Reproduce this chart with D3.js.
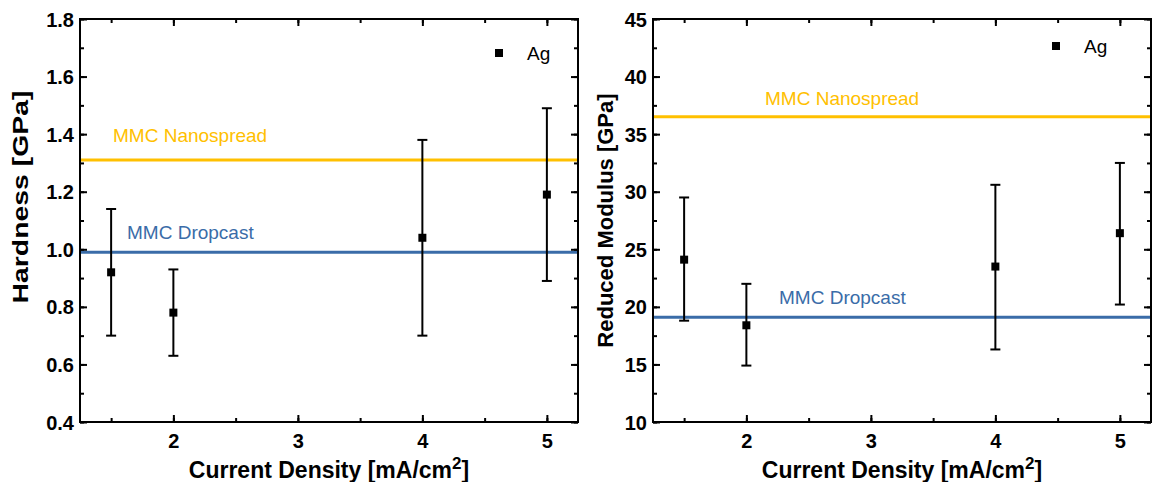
<!DOCTYPE html>
<html><head><meta charset="utf-8">
<script src="https://cdn.jsdelivr.net/npm/d3@7"></script>
<style>body{margin:0;background:#fff}svg{display:block}text{font-family:"Liberation Sans",Arial,sans-serif}</style>
</head><body>
<svg id="c" width="1153" height="482"></svg>
<script>
const xValues = [1.5, 2, 4, 5];
const hardness = [0.92, 0.78, 1.04, 1.19];
const hardnessLow = [0.70, 0.63, 0.70, 0.89];
const hardnessHigh = [1.14, 0.93, 1.38, 1.49];
const modulus = [24.1, 18.4, 23.5, 26.4];
const modulusLow = [18.8, 14.9, 16.3, 20.2];
const modulusHigh = [29.5, 22.0, 30.6, 32.5];
const hardnessRef = [{name:"MMC Nanospread", value:1.31}, {name:"MMC Dropcast", value:0.99}];
const modulusRef = [{name:"MMC Nanospread", value:36.5}, {name:"MMC Dropcast", value:19.1}];
const xTicks = [2, 3, 4, 5];
const hardnessTicks = [0.4, 0.6, 0.8, 1.0, 1.2, 1.4, 1.6, 1.8];
const modulusTicks = [10, 15, 20, 25, 30, 35, 40, 45];

const colors = {"MMC Nanospread":"#FFC000", "MMC Dropcast":"#3A6CA8"};
const svg = d3.select("#c");

function panel(opt){
  const g = svg.append("g");
  const x = d3.scaleLinear().domain([1.25, 5.25]).range([opt.left, opt.right]);
  const y = d3.scaleLinear().domain(opt.yDomain).range([422, 19]);
  opt.refs.forEach((r,i)=>{
    g.append("line").attr("x1",x.range()[0]).attr("x2",x.range()[1])
      .attr("y1",y(r.value)).attr("y2",y(r.value))
      .attr("stroke",colors[r.name]).attr("stroke-width",3);
    g.append("text").attr("x",opt.labelPos[i][0]).attr("y",opt.labelPos[i][1])
      .attr("fill",colors[r.name]).attr("font-size",19).text(r.name);
  });
  g.append("rect").attr("x",opt.left).attr("y",19).attr("width",opt.right-opt.left).attr("height",403)
    .attr("fill","none").attr("stroke","#000").attr("stroke-width",2);
  const minorX = d3.range(1.5, 5.25, 0.5);
  const mkAx = (axisFn, scale, vals, size, fmt) => axisFn(scale).tickValues(vals).tickSize(size).tickFormat(fmt);
  const yMinor = d3.range(opt.yDomain[0], opt.yDomain[1] + 1e-9, opt.yMinorStep);
  const addAxis = (ax, tr, labels) => {
    const a = g.append("g").attr("transform", tr).call(ax);
    a.select(".domain").remove();
    a.selectAll("line").attr("stroke","#000").attr("stroke-width",2);
    a.selectAll("text").attr("font-size",20).attr("font-weight","bold").attr("fill","#000")
      .style("font-family",'"Liberation Sans",Arial,sans-serif');
    if(!labels) a.selectAll("text").remove();
    return a;
  };
  addAxis(mkAx(d3.axisTop, x, minorX, 4, ""), `translate(0,422)`, false);
  const bx = addAxis(mkAx(d3.axisTop, x, xTicks, 7, d3.format("d")), `translate(0,422)`, true);
  bx.selectAll("text").attr("y",26).attr("dy","0");
  addAxis(mkAx(d3.axisBottom, x, minorX, 4, ""), `translate(0,19)`, false);
  addAxis(mkAx(d3.axisBottom, x, xTicks, 7, ""), `translate(0,19)`, false);
  addAxis(mkAx(d3.axisRight, y, yMinor, 4, ""), `translate(${opt.left},0)`, false);
  const ly = addAxis(mkAx(d3.axisRight, y, opt.yTicks, 7, opt.fmt), `translate(${opt.left},0)`, true);
  ly.selectAll("text").attr("x",-6).attr("text-anchor","end").attr("dy","0.35em");
  addAxis(mkAx(d3.axisLeft, y, yMinor, 4, ""), `translate(${opt.right},0)`, false);
  addAxis(mkAx(d3.axisLeft, y, opt.yTicks, 7, ""), `translate(${opt.right},0)`, false);

  const data = xValues.map((v,i)=>({x:v, y:opt.vals[i], lo:opt.lo[i], hi:opt.hi[i]}));
  const eb = g.append("g");
  data.forEach(d=>{
    eb.append("line").attr("x1",x(d.x)).attr("x2",x(d.x)).attr("y1",y(d.lo)).attr("y2",y(d.hi)).attr("stroke","#000").attr("stroke-width",2);
    [d.lo,d.hi].forEach(v=>eb.append("line").attr("x1",x(d.x)-5).attr("x2",x(d.x)+5).attr("y1",y(v)).attr("y2",y(v)).attr("stroke","#000").attr("stroke-width",2));
  });
  g.selectAll("rect.pt").data(data).enter().append("rect").attr("class","pt")
    .attr("x",d=>x(d.x)-4).attr("y",d=>y(d.y)-4).attr("width",8).attr("height",8).attr("fill","#000");
  g.append("rect").attr("x",opt.legend[0]-4).attr("y",opt.legend[1]-4).attr("width",8).attr("height",8).attr("fill","#000");
  g.append("text").attr("x",opt.legend[0]+28).attr("y",opt.legend[1]+7).attr("font-size",19).text("Ag");
  const yt = g.append("text").attr("transform",`translate(${opt.ytitleX},${opt.ytitleY}) rotate(-90)`)
    .attr("text-anchor","middle").attr("font-size",22).attr("font-weight","bold").text(opt.ytitle);
  if(opt.ytitleLen) yt.attr("textLength",opt.ytitleLen).attr("lengthAdjust","spacingAndGlyphs");
  const xt = g.append("text").attr("x",(opt.left+opt.right)/2).attr("y",478)
    .attr("text-anchor","middle").attr("font-size",23).attr("font-weight","bold");
  xt.append("tspan").text("Current Density [mA/cm");
  xt.append("tspan").attr("font-size",17).attr("dy",-9).text("2");
  xt.append("tspan").attr("dy",9).text("]");
}

panel({left:80, right:578, yDomain:[0.4,1.8], yTicks:hardnessTicks, yMinorStep:0.1, fmt:d3.format(".1f"),
  vals:hardness, lo:hardnessLow, hi:hardnessHigh, refs:hardnessRef,
  labelPos:[[113,142],[127,239]], legend:[499,53], ytitle:"Hardness [GPa]", ytitleX:28, ytitleY:197, ytitleLen:213});
panel({left:653, right:1151, yDomain:[10,45], yTicks:modulusTicks, yMinorStep:2.5, fmt:d3.format("d"),
  vals:modulus, lo:modulusLow, hi:modulusHigh, refs:modulusRef,
  labelPos:[[765,105],[779,304]], legend:[1056,46], ytitle:"Reduced Modulus [GPa]", ytitleX:613, ytitleY:220.5});
</script>
</body></html>
